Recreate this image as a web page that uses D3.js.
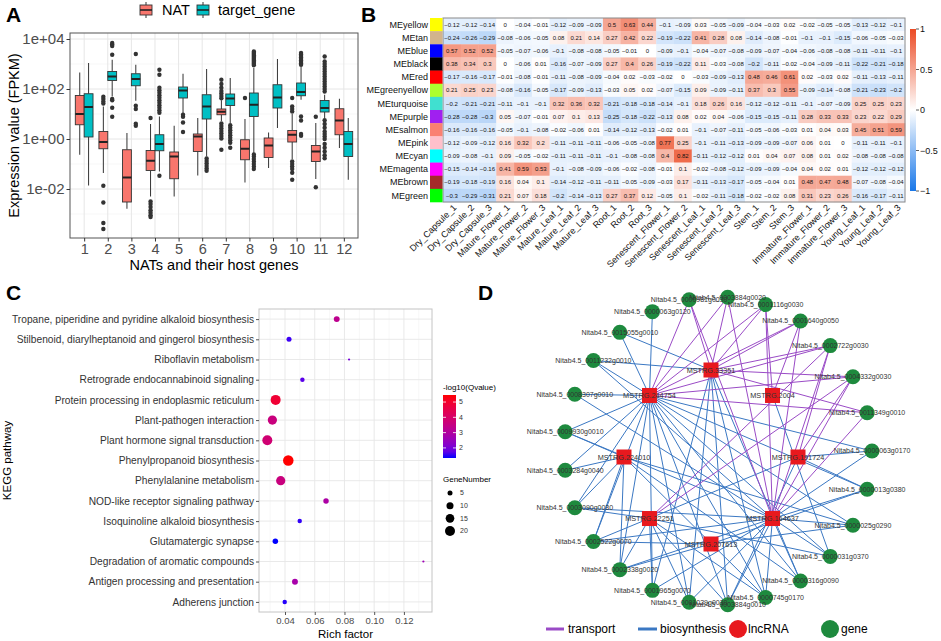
<!DOCTYPE html>
<html>
<head>
<meta charset="utf-8">
<script src="https://cdn.jsdelivr.net/npm/d3@7/dist/d3.min.js"></script>
<style>
html,body{margin:0;padding:0;background:#fff;}
svg{display:block;}
text{font-family:"Liberation Sans",Arial,Helvetica,sans-serif;}
</style>
</head>
<body>
<svg id="fig" width="941" height="641"></svg>
<script>
// ================= DATA =================
// ---- Panel A: boxplots, values are log10(FPKM) ----
const boxCategories = ["1","2","3","4","5","6","7","8","9","10","11","12"];
const boxGroups = ["NAT","target_gene"];
// [lowerWhisker, Q1, median, Q3, upperWhisker]
const natBoxes = [
  [-0.63,0.57,1.0,1.74,2.66],
  [-1.36,-0.39,-0.12,0.3,1.3],
  [-2.79,-2.52,-1.54,-0.43,0.24],
  [-2.3,-1.26,-0.87,-0.46,0.6],
  [-2.3,-1.59,-0.7,-0.52,0.53],
  [-1.46,-0.5,0.1,0.2,0.84],
  [0.72,0.97,1.09,1.2,1.55],
  [-1.74,-0.83,-0.39,-0.03,0.8],
  [-1.16,-0.74,-0.26,0.04,0.26],
  [-0.8,-0.12,0.17,0.34,1.0],
  [-1.6,-0.9,-0.5,-0.26,0.64],
  [-0.36,0.17,0.74,1.21,1.61]
];
const natOutliers = [
  [],
  [1.69,1.6,1.5,1.42,-1.87,-2.54,-3.36,-3.6],
  [],
  [0.84,-2.5,-2.6,-2.72,-2.85,-2.95,-3.05,-3.12],
  [],
  [],
  [2.37,2.2,2.05,1.92,1.82,1.72,1.63,0.62,0.52,0.42,0.32,0.22,0.12,0.02,-0.43],
  [1.64],
  [],
  [1.64,1.3,1.2,1.1,-0.9,-1.0,-1.1,-1.2,-1.35,-1.63],
  [0.89,-1.93],
  []
];
const targetBoxes = [
  [-1.86,0.08,1.28,1.81,3.04],
  [1.7,2.34,2.5,2.7,3.17],
  [1.53,2.13,2.4,2.61,2.97],
  [-1.3,-0.47,-0.2,0.17,0.9],
  [1.04,1.64,1.94,2.08,2.61],
  [-0.7,0.8,1.3,1.77,2.8],
  [0.64,1.34,1.62,1.8,2.44],
  [-0.56,0.9,1.37,1.84,2.84],
  [0.44,1.24,1.66,2.17,3.2],
  [1.57,1.73,1.88,2.24,2.9],
  [0.84,1.08,1.24,1.54,1.77],
  [-1.63,-0.7,-0.2,0.3,0.84]
];
const targetOutliers = [
  [],
  [3.84,3.78,3.72,3.37,1.6,1.55,1.25,0.89],
  [3.4,1.33,1.2,0.61,0.53],
  [2.77,2.57,2.05,1.95,1.85,1.75,1.65,1.55,1.45,1.35,1.25,1.15,1.05,-1.47],
  [0.97,0.89,0.66,0.28],
  [-0.78,-0.88,-0.98,-1.08,-1.18,-1.27],
  [0.55,0.45,0.35,0.25,0.15,0.05,-0.05,-0.15,-0.35],
  [3.5,3.45,3.4,3.35,3.3,3.25,3.2,3.15,3.1,3.05,3.0,2.95,-0.62,-0.7,-0.8,-0.9,-1.0,-1.1,-1.2],
  [],
  [3.44,3.38,3.32,3.26,3.2,3.14,3.08,3.02,2.97,0.9,0.74,0.2,0.13],
  [3.3,3.1,3.0,2.9,2.8,2.7,2.6,2.5,2.4,2.3,2.2,2.1,2.0,1.9,0.75,0.6,0.45,0.3,0.2,0.1,0,-0.2,-0.35,-0.5,-0.65,-0.77],
  []
];
const yTickExponents = [-2,0,2,4];

// ---- Panel B: module-trait correlation heatmap ----
const modules = ["MEyellow","MEtan","MEblue","MEblack","MEred","MEgreenyellow","MEturquoise","MEpurple","MEsalmon","MEpink","MEcyan","MEmagenta","MEbrown","MEgreen"];
const moduleColors = ["#FFFF00","#D2B48C","#0000FF","#000000","#FF0000","#ADFF2F","#40E0D0","#A020F0","#FA8072","#FFC0CB","#00FFFF","#FF00FF","#A52A2A","#00FF00"];
const tissues = ["Dry_Capsule_1","Dry_Capsule_2","Dry_Capsule_3","Mature_Flower_1","Mature_Flower_2","Mature_Flower_3","Mature_Leaf_1","Mature_Leaf_2","Mature_Leaf_3","Root_1","Root_2","Root_3","Senescent_Flower_1","Senescent_Flower_2","Senescent_Leaf_1","Senescent_Leaf_2","Senescent_Leaf_3","Stem_1","Stem_2","Stem_3","Immature_Flower_1","Immature_Flower_2","Immature_Flower_3","Young_Leaf_1","Young_Leaf_2","Young_Leaf_3"];
const corr = [
  [-0.12,-0.12,-0.14,0,-0.04,-0.01,-0.12,-0.09,-0.09,0.5,0.63,0.44,-0.1,-0.09,0.03,-0.05,-0.09,-0.04,-0.03,0.02,-0.02,-0.05,-0.05,-0.13,-0.12,-0.1],
  [-0.24,-0.26,-0.29,-0.08,-0.06,-0.05,0.08,0.21,0.14,0.27,0.42,0.22,-0.19,-0.22,0.41,0.28,0.08,-0.14,-0.08,-0.01,-0.1,-0.1,-0.15,-0.06,-0.05,-0.03],
  [0.57,0.52,0.52,-0.05,-0.07,-0.06,-0.1,-0.08,-0.08,-0.05,-0.01,0,-0.09,-0.1,-0.04,-0.07,-0.08,-0.09,-0.07,-0.04,-0.06,-0.08,-0.08,-0.11,-0.11,-0.1],
  [0.38,0.34,0.3,0,-0.06,0.01,-0.16,-0.07,-0.09,0.27,0.4,0.26,-0.19,-0.22,0.11,-0.03,-0.08,-0.2,-0.11,-0.02,-0.04,-0.09,-0.11,-0.22,-0.21,-0.18],
  [-0.17,-0.16,-0.17,-0.01,-0.08,-0.01,-0.11,-0.08,-0.09,-0.04,0.02,-0.03,-0.02,0,-0.03,-0.09,-0.13,0.48,0.46,0.61,0.02,-0.03,0.02,-0.11,-0.13,-0.11],
  [0.21,0.25,0.23,-0.08,-0.16,-0.05,-0.17,-0.09,-0.13,-0.03,0.05,0.02,-0.07,-0.15,0.09,-0.09,-0.11,0.37,0.3,0.55,-0.09,-0.14,-0.08,-0.21,-0.23,-0.2],
  [-0.2,-0.21,-0.21,-0.11,-0.1,-0.1,0.32,0.36,0.32,-0.21,-0.18,-0.18,-0.14,-0.1,0.18,0.26,0.16,-0.12,-0.12,-0.11,-0.1,-0.07,-0.09,0.25,0.25,0.23],
  [-0.28,-0.28,-0.3,0.05,-0.07,-0.01,0.07,0.1,0.13,-0.25,-0.18,-0.22,-0.13,0.08,0.02,0.04,-0.06,-0.15,-0.15,-0.11,0.28,0.33,0.33,0.23,0.22,0.29],
  [-0.16,-0.16,-0.16,-0.05,-0.1,-0.08,-0.02,-0.06,0.01,-0.14,-0.12,-0.13,-0.02,0.01,-0.1,-0.07,-0.11,-0.05,-0.06,-0.03,0.01,0.04,0.03,0.45,0.51,0.59],
  [-0.12,-0.09,-0.12,0.16,0.32,0.2,-0.11,-0.11,-0.11,-0.06,-0.05,-0.08,0.77,0.25,-0.1,-0.11,-0.13,-0.09,-0.09,-0.07,0.06,0.01,0,-0.11,-0.11,-0.1],
  [-0.09,-0.08,-0.1,0.09,-0.05,-0.02,-0.11,-0.11,-0.11,-0.1,-0.08,-0.08,0.4,0.82,-0.11,-0.12,-0.12,0.01,0.04,0.07,0.08,0.01,0.02,-0.08,-0.08,-0.08],
  [-0.15,-0.14,-0.16,0.41,0.59,0.53,-0.1,-0.08,-0.09,-0.06,-0.02,-0.08,-0.01,0.1,-0.02,-0.08,-0.12,-0.09,-0.09,-0.04,0.04,0.02,0.01,-0.12,-0.12,-0.12],
  [-0.19,-0.18,-0.19,0.16,0.04,0.1,-0.14,-0.12,-0.11,-0.11,-0.05,-0.09,-0.03,0.17,-0.11,-0.13,-0.17,-0.05,-0.04,0.01,0.48,0.47,0.48,-0.07,-0.08,-0.04],
  [-0.3,-0.29,-0.31,0.21,0.07,0.18,-0.2,-0.14,-0.13,0.27,0.37,0.12,-0.05,0.1,-0.02,-0.11,-0.18,-0.02,-0.02,0.08,0.31,0.23,0.26,-0.16,-0.17,-0.11]
];
const corrTicks = [1,0.5,0,-0.5,-1];

// ---- Panel C: KEGG enrichment ----
const pathways = ["Tropane, piperidine and pyridine alkaloid biosynthesis","Stilbenoid, diarylheptanoid and gingerol biosynthesis","Riboflavin metabolism","Retrograde endocannabinoid signaling","Protein processing in endoplasmic reticulum","Plant-pathogen interaction","Plant hormone signal transduction","Phenylpropanoid biosynthesis","Phenylalanine metabolism","NOD-like receptor signaling pathway","Isoquinoline alkaloid biosynthesis","Glutamatergic synapse","Degradation of aromatic compounds","Antigen processing and presentation","Adherens junction"];
const richFactor = [0.0748,0.0427,0.0831,0.0517,0.0337,0.0315,0.0281,0.0422,0.0371,0.0676,0.0499,0.0335,0.1331,0.0467,0.0398];
const negLogQ = [3.3,1.5,2.0,1.7,4.9,3.6,3.8,5.46,3.6,2.9,1.45,1.34,2.6,2.8,1.4];
const geneNumber = [7,5,1,4,20,17,20,22,17,6,4,6,1,7,4];
const richTicks = [0.04,0.06,0.08,0.10,0.12];
const qTicks = [2,3,4,5];
const sizeTicks = [5,10,15,20];

// ---- Panel D: lncRNA-gene network ----
const geneNodes = ["Nitab4.5_0003884g0020","Nitab4.5_0001116g0030","Nitab4.5_0001640g0050","Nitab4.5_0002722g0030","Nitab4.5_0004332g0030","Nitab4.5_0011349g0010","Nitab4.5_0000063g0170","Nitab4.5_0000013g0380","Nitab4.5_0000025g0290","Nitab4.5_0000031g0370","Nitab4.5_0000316g0090","Nitab4.5_0000745g0170","Nitab4.5_0003884g0010","Nitab4.5_0001029g0030","Nitab4.5_0001965g0070","Nitab4.5_0002338g0020","Nitab4.5_0002522g0070","Nitab4.5_0003090g0030","Nitab4.5_0003284g0040","Nitab4.5_0009930g0010","Nitab4.5_0008307g0010","Nitab4.5_0011232g0010","Nitab4.5_0015055g0010","Nitab4.5_0000063g0120","Nitab4.5_0000981g0030"];
const lncNodes = ["MSTRG.33351","MSTRG.2004","MSTRG.191724","MSTRG.164637","MSTRG.207613","MSTRG.22251","MSTRG.224010","MSTRG.244754"];
// [lncRNA index, gene index]
const transportEdges = [
  [0,24],[0,0],[0,1],[0,2],[0,3],[0,4],[0,5],
  [1,1],[1,2],
  [2,3],[2,4],
  [3,24],[3,0],[3,1],[3,2],[3,3],[3,4],[3,5],
  [5,3],[5,4],
  [7,24],[7,0],[7,1],[7,2],[7,3],[7,4],[7,5]
];
const biosynthesisEdges = [
  [0,21],[0,22],[0,10],[0,11],[0,12],[0,13],[0,14],
  [1,9],
  [2,6],[2,7],[2,12],[2,16],
  [3,6],[3,7],[3,8],[3,9],[3,10],[3,11],[3,12],[3,13],[3,14],[3,15],[3,16],[3,17],[3,19],[3,20],[3,21],
  [4,15],[4,16],[4,7],[4,8],
  [5,13],[5,14],[5,15],[5,17],[5,11],[5,9],[5,12],
  [6,17],[6,18],[6,19],[6,15],[6,16],[6,8],[6,10],[6,11],
  [7,6],[7,7],[7,8],[7,9],[7,10],[7,11],[7,12],[7,13],[7,14],[7,15],[7,16],[7,17],[7,18],[7,19],[7,20],[7,21],[7,22],[7,23]
];
const edgeTypes = ["transport","biosynthesis"];

// ================= DRAWING =================
const svg = d3.select("#fig");
svg.append("rect").attr("width",941).attr("height",641).attr("fill","#fff");
const letter = (t,x,y)=>svg.append("text").attr("x",x).attr("y",y).text(t)
  .attr("font-size",21).attr("font-weight","bold").attr("fill","#000");
letter("A",6,22); letter("B",361,22); letter("C",6,300); letter("D",478,300);

// ---------- Panel A ----------
(function(){
  const A={l:70,r:358,t:33,b:238};
  const g = svg.append("g");
  const x = d3.scalePoint().domain(boxCategories).range([A.l,A.r]).padding(0.6);
  const y = d3.scaleLog().domain([Math.pow(10,-3.96),Math.pow(10,4.24)]).range([A.b,A.t]);
  const f = v=>y(Math.pow(10,v));
  const step = x.step();
  const bw = step*0.375;
  const col = d3.scaleOrdinal().domain(boxGroups).range(["#F8766D","#00BFC4"]);
  const minor = [-3,-1,1,3];
  g.selectAll(".mny").data(minor).join("line").attr("x1",A.l).attr("x2",A.r)
    .attr("y1",d=>f(d)).attr("y2",d=>f(d)).attr("stroke","#F2F2F2").attr("stroke-width",0.6);
  g.selectAll(".mjy").data(yTickExponents).join("line").attr("x1",A.l).attr("x2",A.r)
    .attr("y1",d=>f(d)).attr("y2",d=>f(d)).attr("stroke","#E6E6E6").attr("stroke-width",1);
  g.selectAll(".mjx").data(boxCategories).join("line").attr("y1",A.t).attr("y2",A.b)
    .attr("x1",d=>x(d)).attr("x2",d=>x(d)).attr("stroke","#E6E6E6").attr("stroke-width",1);
  const groups = [
    {name:"NAT", boxes:natBoxes, out:natOutliers, off:-bw/2},
    {name:"target_gene", boxes:targetBoxes, out:targetOutliers, off:bw/2}
  ];
  groups.forEach(G=>{
    G.boxes.forEach((s,i)=>{
      const cx = x(boxCategories[i])+G.off;
      g.append("line").attr("x1",cx).attr("x2",cx).attr("y1",f(s[0])).attr("y2",f(s[1])).attr("stroke","#333").attr("stroke-width",1);
      g.append("line").attr("x1",cx).attr("x2",cx).attr("y1",f(s[3])).attr("y2",f(s[4])).attr("stroke","#333").attr("stroke-width",1);
      g.append("rect").attr("x",cx-bw/2).attr("width",bw).attr("y",f(s[3])).attr("height",f(s[1])-f(s[3]))
        .attr("fill",col(G.name)).attr("stroke","#333").attr("stroke-width",0.9);
      g.append("line").attr("x1",cx-bw/2).attr("x2",cx+bw/2).attr("y1",f(s[2])).attr("y2",f(s[2])).attr("stroke","#222").attr("stroke-width",2);
      g.selectAll(null).data(G.out[i]).join("circle").attr("cx",cx).attr("cy",d=>f(d)).attr("r",2.2).attr("fill","#333");
    });
  });
  g.append("rect").attr("x",A.l).attr("y",A.t).attr("width",A.r-A.l).attr("height",A.b-A.t).attr("fill","none").attr("stroke","#555").attr("stroke-width",1);
  const fmt = v=>{const e=Math.round(Math.log10(v));return "1e"+(e<0?"-":"+")+String(Math.abs(e)).padStart(2,"0");};
  const ya = g.append("g").attr("transform",`translate(${A.l},0)`).call(d3.axisLeft(y).tickValues(yTickExponents.map(e=>Math.pow(10,e))).tickFormat(fmt).tickSize(3.5).tickPadding(2));
  ya.select(".domain").remove();
  ya.selectAll("text").attr("font-size",15).attr("fill","#4D4D4D").attr("font-family",'"Liberation Sans",Arial,sans-serif');
  ya.selectAll("line").attr("stroke","#333");
  const xa = g.append("g").attr("transform",`translate(0,${A.b})`).call(d3.axisBottom(x).tickSize(3.5).tickPadding(2));
  xa.select(".domain").remove();
  xa.selectAll("text").attr("font-size",14.5).attr("fill","#4D4D4D").attr("font-family",'"Liberation Sans",Arial,sans-serif');
  xa.selectAll("line").attr("stroke","#333");
  g.append("text").attr("x",(A.l+A.r)/2).attr("y",270).attr("text-anchor","middle").attr("font-size",14.5).attr("fill","#000").text("NATs and their host genes");
  g.append("text").attr("transform",`translate(19,${(A.t+A.b)/2}) rotate(-90)`).attr("text-anchor","middle").attr("font-size",14.5).attr("fill","#000").text("Expression value (FPKM)");
  const leg = [{n:"NAT",kx:140,tx:162},{n:"target_gene",kx:197,tx:218}];
  leg.forEach(L=>{
    const c=L.kx+6;
    g.append("line").attr("x1",c).attr("x2",c).attr("y1",2).attr("y2",18).attr("stroke","#333");
    g.append("rect").attr("x",L.kx).attr("y",5).attr("width",12).attr("height",10).attr("fill",col(L.n)).attr("stroke","#333").attr("stroke-width",0.9);
    g.append("line").attr("x1",L.kx).attr("x2",L.kx+12).attr("y1",10).attr("y2",10).attr("stroke","#222").attr("stroke-width",1.6);
    g.append("text").attr("x",L.tx).attr("y",15).attr("font-size",14.5).attr("fill","#000").text(L.n);
  });
})();

// ---------- Panel B ----------
(function(){
  const g = svg.append("g");
  const x = d3.scaleBand().domain(tissues).range([443,905]);
  const y = d3.scaleBand().domain(modules).range([18,202]);
  const color = d3.scaleLinear().domain([-1,0,1]).range(["#1877E8","#FFFFFF","#EB4A24"]);
  const cells=[];
  corr.forEach((row,i)=>row.forEach((v,j)=>cells.push({m:modules[i],t:tissues[j],v})));
  g.selectAll(".cell").data(cells).join("rect").attr("x",d=>x(d.t)).attr("y",d=>y(d.m))
    .attr("width",x.bandwidth()+0.3).attr("height",y.bandwidth()+0.3).attr("fill",d=>color(d.v));
  const fmt = v=>(v<0?"\u2212":"")+String(Math.abs(v));
  g.selectAll(".num").data(cells).join("text").attr("x",d=>x(d.t)+x.bandwidth()/2).attr("y",d=>y(d.m)+y.bandwidth()/2)
    .attr("dy","0.35em").attr("text-anchor","middle").attr("font-size",6).attr("fill","#111").text(d=>fmt(d.v));
  g.append("rect").attr("x",443).attr("y",18).attr("width",462).attr("height",184).attr("fill","none").attr("stroke","#8A8A8A").attr("stroke-width",1);
  g.selectAll(".strip").data(modules).join("rect").attr("x",430).attr("y",d=>y(d)).attr("width",12.5).attr("height",y.bandwidth()+0.3)
    .attr("fill",(d,i)=>moduleColors[i]);
  g.selectAll(".rl").data(modules).join("text").attr("x",428).attr("y",d=>y(d)+y.bandwidth()/2).attr("dy","0.35em")
    .attr("text-anchor","end").attr("font-size",9).attr("fill","#111").text(d=>d);
  g.selectAll(".cl").data(tissues).join("text")
    .attr("transform",d=>`translate(${x(d)+x.bandwidth()/2+3},${206}) rotate(-45)`)
    .attr("text-anchor","end").attr("dy","0.35em").attr("font-size",9).attr("fill","#111").text(d=>d);
  const cb = d3.scaleLinear().domain([-1,1]).range([191,29]);
  const defs = svg.append("defs");
  const lg = defs.append("linearGradient").attr("id","cbB").attr("x1",0).attr("x2",0).attr("y1",1).attr("y2",0);
  d3.range(-1,1.001,0.25).forEach(v=>lg.append("stop").attr("offset",(v+1)/2).attr("stop-color",color(v)));
  g.append("rect").attr("x",910).attr("y",29).attr("width",6).attr("height",162).attr("fill","url(#cbB)");
  g.selectAll(".cbt").data(corrTicks).join("line").attr("x1",916).attr("x2",919).attr("y1",d=>cb(d)).attr("y2",d=>cb(d)).attr("stroke","#333").attr("stroke-width",0.8);
  g.selectAll(".cbl").data(corrTicks).join("text").attr("x",920).attr("y",d=>cb(d)).attr("dy","0.35em").attr("font-size",9).attr("fill","#111").text(d=>fmt(d));
})();

// ---------- Panel C ----------
(function(){
  const P={l:259,r:432,t:309,b:612};
  const g = svg.append("g");
  const x = d3.scaleLinear().domain([0.0225,0.1389]).range([P.l,P.r]);
  const y = d3.scalePoint().domain(pathways).range([P.t,P.b]).padding(0.5);
  const col = d3.scaleLinear().domain([1.34,5.46]).range(["#0000FF","#FF0000"]).interpolate(d3.interpolateLab);
  const size = d3.scaleSqrt().domain([0,20]).range([0,5]);
  const minorX = [0.03,0.05,0.07,0.09,0.11,0.13];
  g.selectAll(".gx2").data(minorX).join("line").attr("x1",d=>x(d)).attr("x2",d=>x(d)).attr("y1",P.t).attr("y2",P.b).attr("stroke","#F1F1F1").attr("stroke-width",0.6);
  g.selectAll(".gx").data(richTicks).join("line").attr("x1",d=>x(d)).attr("x2",d=>x(d)).attr("y1",P.t).attr("y2",P.b).attr("stroke","#E6E6E6").attr("stroke-width",0.9);
  g.selectAll(".gy").data(pathways).join("line").attr("x1",P.l).attr("x2",P.r).attr("y1",d=>y(d)).attr("y2",d=>y(d)).attr("stroke","#E6E6E6").attr("stroke-width",0.9);
  g.append("rect").attr("x",P.l).attr("y",P.t).attr("width",P.r-P.l).attr("height",P.b-P.t).attr("fill","none").attr("stroke","#C4C4C4").attr("stroke-width",1);
  g.selectAll(".pt").data(pathways).join("circle").attr("cx",(d,i)=>x(richFactor[i])).attr("cy",d=>y(d))
    .attr("r",(d,i)=>size(geneNumber[i])).attr("fill",(d,i)=>col(negLogQ[i]));
  const xa = g.append("g").attr("transform",`translate(0,${P.b})`).call(d3.axisBottom(x).tickValues(richTicks).tickFormat(d3.format(".2f")).tickSize(3).tickPadding(2));
  xa.select(".domain").remove();
  xa.selectAll("line").attr("stroke","#555");
  xa.selectAll("text").attr("font-size",9.5).attr("fill","#4D4D4D").attr("font-family",'"Liberation Sans",Arial,sans-serif');
  const ya = g.append("g").attr("transform",`translate(${P.l},0)`).call(d3.axisLeft(y).tickSize(3).tickPadding(2));
  ya.select(".domain").remove();
  ya.selectAll("line").attr("stroke","#555");
  ya.selectAll("text").attr("font-size",10.2).attr("fill","#333").attr("font-family",'"Liberation Sans",Arial,sans-serif');
  g.append("text").attr("x",(P.l+P.r)/2).attr("y",638).attr("text-anchor","middle").attr("font-size",11.5).attr("fill","#000").text("Rich factor");
  g.append("text").attr("transform",`translate(11,${(P.t+P.b)/2}) rotate(-90)`).attr("text-anchor","middle").attr("font-size",11.5).attr("fill","#000").text("KEGG pathway");
  const cy = d3.scaleLinear().domain([1.34,5.46]).range([458,395]);
  const lg = svg.append("defs").append("linearGradient").attr("id","cbC").attr("x1",0).attr("x2",0).attr("y1",1).attr("y2",0);
  d3.range(0,1.001,0.1).forEach(t=>lg.append("stop").attr("offset",t).attr("stop-color",col(1.34+t*(5.46-1.34))));
  g.append("rect").attr("x",443).attr("y",395).attr("width",13).attr("height",63).attr("fill","url(#cbC)");
  g.selectAll(".qt").data(qTicks).join("line").attr("x1",443).attr("x2",446).attr("y1",d=>cy(d)).attr("y2",d=>cy(d)).attr("stroke","#fff").attr("stroke-width",0.8);
  g.selectAll(".qt2").data(qTicks).join("line").attr("x1",453).attr("x2",456).attr("y1",d=>cy(d)).attr("y2",d=>cy(d)).attr("stroke","#fff").attr("stroke-width",0.8);
  g.selectAll(".ql").data(qTicks).join("text").attr("x",459).attr("y",d=>cy(d)).attr("dy","0.35em").attr("font-size",7).attr("fill","#333").text(d=>d);
  g.append("text").attr("x",443).attr("y",390).attr("font-size",8).attr("fill","#000").text("-log10(Qvalue)");
  g.append("text").attr("x",443).attr("y",482).attr("font-size",8).attr("fill","#000").text("GeneNumber");
  const sy = d3.scalePoint().domain(sizeTicks).range([493,531]);
  g.selectAll(".sc").data(sizeTicks).join("circle").attr("cx",450).attr("cy",d=>sy(d)).attr("r",d=>size(d)).attr("fill","#000");
  g.selectAll(".sl").data(sizeTicks).join("text").attr("x",460).attr("y",d=>sy(d)).attr("dy","0.35em").attr("font-size",7).attr("fill","#333").text(d=>d);
})();

// ---------- Panel D ----------
(function(){
  const g = svg.append("g");
  const a0 = 3.6*Math.PI/180;
  const geneAngle = d3.scaleLinear().domain([0,geneNodes.length]).range([a0,a0+2*Math.PI]);
  const lncAngle = d3.scaleLinear().domain([0,lncNodes.length]).range([0,2*Math.PI]);
  const outer = {cx:718,cy:451,r:154}, inner = {cx:711,cy:457,r:87};
  const gp = geneNodes.map((n,i)=>{const p=d3.pointRadial(geneAngle(i),outer.r);return {n,x:outer.cx+p[0],y:outer.cy+p[1]};});
  const lp = lncNodes.map((n,i)=>{const p=d3.pointRadial(lncAngle(i),inner.r);return {n,x:inner.cx+p[0],y:inner.cy+p[1]};});
  const ecol = d3.scaleOrdinal().domain(edgeTypes).range(["#9A4BC6","#3B78C3"]);
  const drawEdges=(list,type)=>g.selectAll(null).data(list).join("line")
    .attr("x1",d=>lp[d[0]].x).attr("y1",d=>lp[d[0]].y).attr("x2",d=>gp[d[1]].x).attr("y2",d=>gp[d[1]].y)
    .attr("stroke",ecol(type)).attr("stroke-width",1);
  drawEdges(biosynthesisEdges,"biosynthesis");
  drawEdges(transportEdges,"transport");
  g.selectAll(".gn").data(gp).join("circle").attr("cx",d=>d.x).attr("cy",d=>d.y).attr("r",7.5).attr("fill","#1E8A3E");
  g.selectAll(".ln").data(lp).join("rect").attr("x",d=>d.x-7.5).attr("y",d=>d.y-7.5).attr("width",15).attr("height",15).attr("fill","#E8191E");
  g.selectAll(".gl").data(gp).join("text").attr("x",d=>d.x).attr("y",d=>d.y).attr("dy","0.35em").attr("text-anchor","middle")
    .attr("font-size",7).attr("fill","#333").text(d=>d.n);
  g.selectAll(".ll").data(lp).join("text").attr("x",d=>d.x).attr("y",d=>d.y).attr("dy","0.35em").attr("text-anchor","middle")
    .attr("font-size",7.3).attr("fill","#333").text(d=>d.n);
  g.append("line").attr("x1",546).attr("x2",564).attr("y1",629).attr("y2",629).attr("stroke",ecol("transport")).attr("stroke-width",3);
  g.append("text").attr("x",568).attr("y",633).attr("font-size",12).attr("fill","#000").text("transport");
  g.append("line").attr("x1",638).attr("x2",657).attr("y1",629).attr("y2",629).attr("stroke",ecol("biosynthesis")).attr("stroke-width",3);
  g.append("text").attr("x",660).attr("y",633).attr("font-size",12).attr("fill","#000").text("biosynthesis");
  g.append("circle").attr("cx",738).attr("cy",629).attr("r",9).attr("fill","#E8191E");
  g.append("text").attr("x",748).attr("y",633).attr("font-size",12).attr("fill","#000").text("lncRNA");
  g.append("circle").attr("cx",830).attr("cy",629).attr("r",9).attr("fill","#1E8A3E");
  g.append("text").attr("x",841).attr("y",633).attr("font-size",12).attr("fill","#000").text("gene");
})();
</script>
</body>
</html>
